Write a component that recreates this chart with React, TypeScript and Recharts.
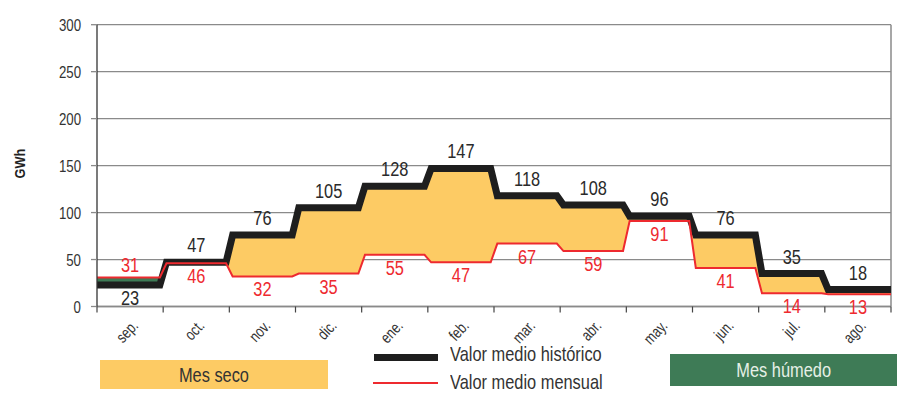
import React from 'react';
import { ComposedChart, Line, Area, XAxis, YAxis, CartesianGrid, LabelList, ReferenceLine } from 'recharts';

const months = ['sep.', 'oct.', 'nov.', 'dic.', 'ene.', 'feb.', 'mar.', 'abr.', 'may.', 'jun.', 'jul.', 'ago.'];
const historico = [23, 47, 76, 105, 128, 147, 118, 108, 96, 76, 35, 18];
const mensual = [31, 46, 32, 35, 55, 47, 67, 59, 91, 41, 14, 13];
const yTicks = [0, 50, 100, 150, 200, 250, 300];
const xTicks = [0, 0.5, 1, 1.5, 2, 2.5, 3, 3.5, 4, 4.5, 5, 5.5, 6, 6.5, 7, 7.5, 8, 8.5, 9, 9.5, 10, 10.5, 11, 11.5, 12];

const FONT = '"Liberation Sans", Arial, sans-serif';
const SX = 0.78;
const EDGE = 0.05;

type Row = { x: number; h: number; v: number; seco: number[]; humedo: number[]; center?: number };
const rows: Row[] = [];
months.forEach((_, i) => {
  const h = historico[i];
  const v = mensual[i];
  const base = {
    h,
    v,
    seco: h >= v ? [v, h] : [h, h],
    humedo: v > h ? [h, v] : [v, v],
  };
  rows.push({ x: i === 0 ? 0 : i + EDGE, ...base });
  rows.push({ x: i + 0.5, ...base, center: i });
  rows.push({ x: i === months.length - 1 ? months.length : i + 1 - EDGE, ...base });
});

const CText = ({ x, y, anchor = 'middle', size, fill, weight, rotate = 0, sx = SX, children }: any) => (
  <text
    x={0}
    y={0}
    transform={`translate(${x},${y}) rotate(${rotate}) scale(${sx},1)`}
    textAnchor={anchor}
    fontSize={size}
    fill={fill}
    fontWeight={weight}
    fontFamily={FONT}
  >
    {children}
  </text>
);

const HistLabel = (props: any) => {
  const { x, y, index } = props;
  const row = rows[index];
  if (!row || row.center === undefined) return null;
  const i = row.center;
  const above = historico[i] >= mensual[i];
  return (
    <CText x={x} y={above ? y - 10 : y + 20} size={21} fill="#2a2a2a">
      {historico[i]}
    </CText>
  );
};

const MensLabel = (props: any) => {
  const { x, y, index } = props;
  const row = rows[index];
  if (!row || row.center === undefined) return null;
  const i = row.center;
  const below = historico[i] >= mensual[i];
  return (
    <CText x={x} y={below ? y + 20 : y - 5} size={21} fill="#ee2a2f">
      {mensual[i]}
    </CText>
  );
};

const TICK_SIZE = 6;
const TICK_MARGIN = 2;

const MonthTick = (props: any) => {
  const { x, y, payload } = props;
  const axisY = y - TICK_SIZE - TICK_MARGIN;
  const val = payload.value;
  if (Number.isInteger(val)) {
    return <line x1={x} x2={x} y1={axisY} y2={axisY + TICK_SIZE} stroke="#444" strokeWidth={1.2} />;
  }
  return (
    <CText x={x + 9} y={axisY + 20} anchor="end" size={16} fill="#333" rotate={-47}>
      {months[Math.floor(val)]}
    </CText>
  );
};

const YTick = (props: any) => {
  const { x, y, payload } = props;
  return (
    <CText x={x} y={y + 6} anchor="end" size={17} fill="#333">
      {payload.value}
    </CText>
  );
};

const GwhLabel = (props: any) => {
  const vb = props.viewBox || { x: 0, y: 0, width: 97, height: 0 };
  return (
    <CText x={vb.x + 25} y={vb.y + vb.height / 2 - 2} size={15} weight="bold" fill="#222" rotate={-90} sx={0.85}>
      GWh
    </CText>
  );
};

const legendText: React.CSSProperties = {
  position: 'absolute',
  fontSize: 21,
  color: '#333',
  lineHeight: '26px',
  whiteSpace: 'nowrap',
  transform: `scaleX(${SX})`,
  transformOrigin: 'left center',
};

export default function App() {
  return (
    <div style={{ position: 'absolute', left: 0, top: 0, width: 901, height: 410, background: '#fff', fontFamily: FONT }}>
      <ComposedChart width={901} height={410} data={rows} margin={{ top: 24.7, right: 10, bottom: 102.5, left: 0 }}>
        <CartesianGrid horizontal vertical={false} stroke="#8a8a8a" strokeWidth={1.3} />
        <XAxis
          xAxisId="a"
          type="number"
          dataKey="x"
          domain={[0, 12]}
          ticks={xTicks}
          interval={0}
          height={1}
          tickSize={TICK_SIZE}
          tickMargin={TICK_MARGIN}
          axisLine={{ stroke: '#8a8a8a', strokeWidth: 1.3 }}
          tickLine={false}
          tick={<MonthTick />}
        />
        <YAxis
          type="number"
          domain={[0, 300]}
          ticks={yTicks}
          width={97}
          tickSize={6}
          tickMargin={10}
          axisLine={{ stroke: '#333', strokeWidth: 1.3 }}
          tickLine={{ stroke: '#8a8a8a', strokeWidth: 1.3 }}
          tick={<YTick />}
          label={{ position: 'insideLeft', content: (p: any) => <GwhLabel {...p} /> }}
        />
        <ReferenceLine xAxisId="a" x={12} stroke="#8a8a8a" strokeWidth={1.5} />
        <Area xAxisId="a" type="linear" dataKey="seco" fill="#fdcb64" fillOpacity={1} stroke="none" isAnimationActive={false} />
        <Area xAxisId="a" type="linear" dataKey="humedo" fill="#3e7b56" fillOpacity={1} stroke="none" isAnimationActive={false} />
        <Line xAxisId="a" type="linear" dataKey="h" stroke="#1e1e1e" strokeWidth={7} dot={false} isAnimationActive={false}>
          <LabelList dataKey="h" content={<HistLabel />} />
        </Line>
        <Line xAxisId="a" type="linear" dataKey="v" stroke="#ee2a2f" strokeWidth={2} dot={false} isAnimationActive={false}>
          <LabelList dataKey="v" content={<MensLabel />} />
        </Line>
      </ComposedChart>
      <div style={{ position: 'absolute', left: 100, top: 360, width: 228, height: 29, background: '#fdcb64', color: '#333', fontSize: 21, display: 'flex', alignItems: 'center', justifyContent: 'center' }}>
        <span style={{ display: 'inline-block', transform: `scaleX(${SX})` }}>Mes seco</span>
      </div>
      <div style={{ position: 'absolute', left: 374, top: 354, width: 64, height: 7, background: '#1e1e1e' }} />
      <div style={{ ...legendText, left: 450, top: 341 }}>Valor medio histórico</div>
      <div style={{ position: 'absolute', left: 373, top: 382, width: 65, height: 2, background: '#ee2a2f' }} />
      <div style={{ ...legendText, left: 450, top: 369 }}>Valor medio mensual</div>
      <div style={{ position: 'absolute', left: 670, top: 354, width: 227, height: 32, background: '#3e7b56', color: '#e6f0e6', fontSize: 21, display: 'flex', alignItems: 'center', justifyContent: 'center' }}>
        <span style={{ display: 'inline-block', transform: `scaleX(${SX})` }}>Mes húmedo</span>
      </div>
    </div>
  );
}
